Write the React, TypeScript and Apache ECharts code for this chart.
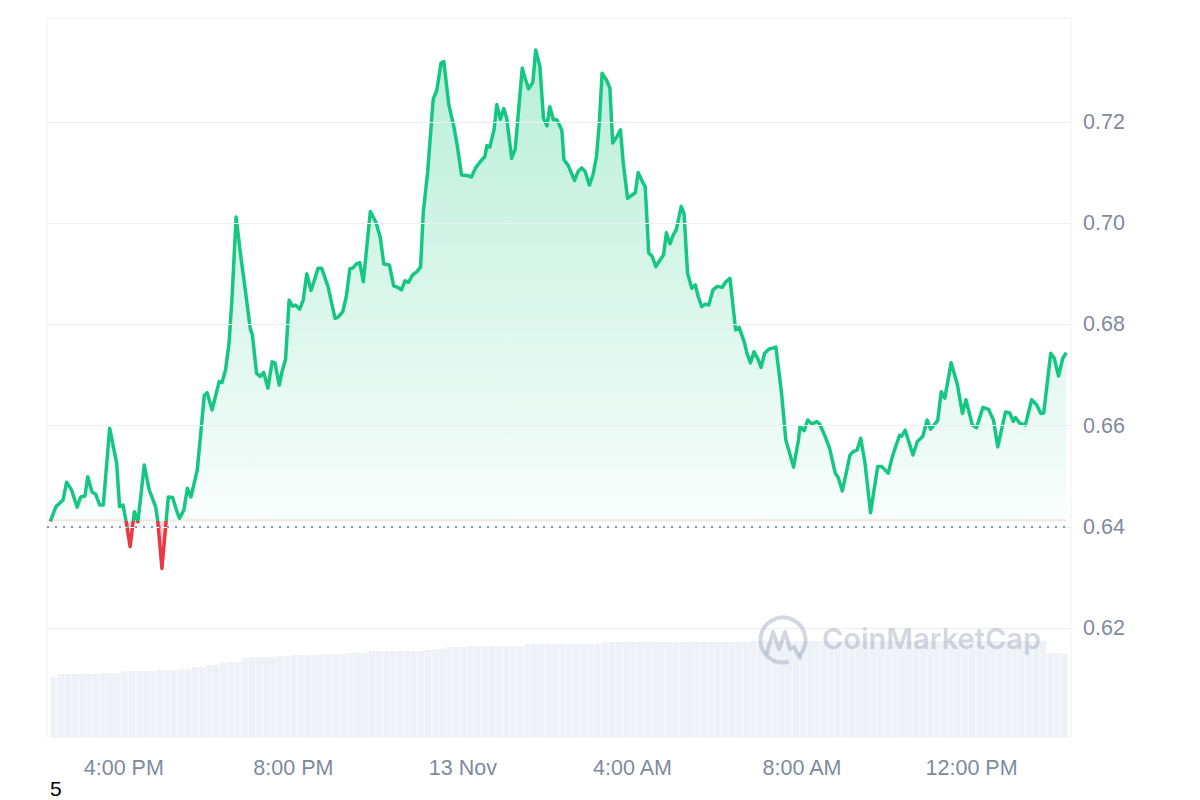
import React, { useEffect, useRef } from "react";
import * as echarts from "echarts";

// minutes since the start of the 24h window (12 Nov, 2:16 PM)
const minutes = [
  0, 8, 18, 23, 30, 38, 43, 49, 53, 59,
  64, 70, 75, 84, 94, 98, 103, 107, 113, 119,
  124, 133, 140, 149, 152, 158, 167, 173, 180, 183,
  189, 194, 199, 208, 218, 222, 229, 239, 243, 248,
  253, 257, 263, 269, 276, 283, 286, 292, 297, 302,
  308, 314, 318, 324, 328, 333, 338, 343, 347, 353,
  358, 363, 369, 374, 379, 384, 393, 403, 407, 414,
  419, 424, 428, 433, 438, 443, 453, 461, 467, 472,
  480, 486, 492, 497, 502, 507, 513, 519, 524, 528,
  534, 539, 542, 547, 553, 557, 564, 571, 576, 582,
  590, 596, 602, 609, 615, 618, 622, 628, 632, 637,
  642, 646, 653, 658, 668, 672, 677, 683, 687, 693,
  698, 703, 707, 712, 717, 724, 727, 733, 742, 747,
  752, 757, 763, 768, 773, 777, 781, 787, 792, 796,
  802, 807, 811, 817, 824, 828, 832, 838, 842, 847,
  852, 857, 863, 868, 872, 877, 882, 886, 893, 897,
  902, 908, 913, 917, 922, 927, 932, 938, 944, 951,
  956, 962, 970, 975, 982, 986, 991, 996, 1002, 1006,
  1011, 1017, 1027, 1035, 1041, 1052, 1059, 1061, 1067, 1072,
  1078, 1085, 1089, 1096, 1103, 1111, 1115, 1121, 1132, 1136,
  1142, 1147, 1153, 1161, 1171, 1177, 1186, 1192, 1202, 1205,
  1210, 1221, 1227, 1235, 1241, 1246, 1256, 1261, 1266, 1275,
  1284, 1291, 1296, 1305, 1311, 1320, 1328, 1335, 1341, 1352,
  1358, 1363, 1366, 1372, 1380, 1389, 1396, 1402, 1406, 1416,
  1421, 1427, 1433, 1438,
];

const prices = [
  0.6411, 0.644, 0.6453, 0.6488, 0.6473, 0.6439, 0.6459, 0.6461, 0.6499, 0.6469,
  0.6465, 0.6443, 0.6443, 0.6595, 0.6525, 0.644, 0.6443, 0.6413, 0.6361, 0.643,
  0.641, 0.6522, 0.6473, 0.644, 0.6413, 0.6318, 0.6459, 0.6458, 0.6427, 0.6417,
  0.6433, 0.6476, 0.6459, 0.6512, 0.666, 0.6665, 0.6631, 0.6687, 0.6685, 0.671,
  0.6763, 0.6848, 0.7012, 0.6941, 0.6868, 0.6792, 0.6779, 0.6703, 0.6697, 0.6705,
  0.6674, 0.6726, 0.6724, 0.668, 0.6707, 0.6731, 0.6848, 0.6836, 0.6838, 0.683,
  0.6848, 0.69, 0.6867, 0.6888, 0.6911, 0.6911, 0.6875, 0.6812, 0.6814, 0.6825,
  0.6855, 0.691, 0.6911, 0.6919, 0.6922, 0.6884, 0.7023, 0.7001, 0.6972, 0.6919,
  0.6917, 0.6876, 0.6873, 0.6868, 0.6886, 0.6883, 0.6898, 0.6904, 0.6913, 0.7023,
  0.7099, 0.7191, 0.7245, 0.7262, 0.7316, 0.7319, 0.7234, 0.7192, 0.7153, 0.7095,
  0.7094, 0.7091, 0.7109, 0.7122, 0.7131, 0.7153, 0.715, 0.7184, 0.7234, 0.7205,
  0.7226, 0.7207, 0.7128, 0.7146, 0.7306, 0.7286, 0.7265, 0.7278, 0.7342, 0.7309,
  0.7207, 0.7192, 0.723, 0.7204, 0.7204, 0.7184, 0.7125, 0.7114, 0.7084, 0.7102,
  0.7109, 0.7102, 0.7075, 0.7095, 0.7131, 0.7197, 0.7296, 0.7283, 0.7267, 0.7158,
  0.7171, 0.7184, 0.7118, 0.7049, 0.7056, 0.706, 0.71, 0.7082, 0.7072, 0.6941,
  0.6934, 0.6914, 0.6927, 0.6937, 0.6981, 0.6959, 0.6977, 0.6987, 0.7033, 0.7018,
  0.6901, 0.6871, 0.6878, 0.6855, 0.6835, 0.684, 0.6838, 0.6868, 0.6875, 0.6873,
  0.6884, 0.6891, 0.6789, 0.6794, 0.6766, 0.6743, 0.6724, 0.6746, 0.673, 0.6715,
  0.6743, 0.6751, 0.6755, 0.6664, 0.6572, 0.6518, 0.6572, 0.6598, 0.659, 0.6611,
  0.6603, 0.6608, 0.6603, 0.6581, 0.6555, 0.6506, 0.6498, 0.6471, 0.6542, 0.6548,
  0.6552, 0.6575, 0.6527, 0.6428, 0.6519, 0.6519, 0.6506, 0.654, 0.6581, 0.6579,
  0.6591, 0.6542, 0.6568, 0.6579, 0.6611, 0.6593, 0.661, 0.6667, 0.6654, 0.6724,
  0.668, 0.6624, 0.6651, 0.6601, 0.6596, 0.6636, 0.6632, 0.6611, 0.6558, 0.6627,
  0.6625, 0.6608, 0.6616, 0.6605, 0.6601, 0.6651, 0.6641, 0.6624, 0.6625, 0.6743,
  0.6733, 0.6698, 0.6733, 0.6744,
];

const openPrice = 0.6411;

// volume (millions), one bar per 10 minutes
const volumes = [
  30.0, 31.5, 31.5, 31.5, 31.5, 31.5, 31.5, 32.0, 32.0, 32.0,
  33.0, 33.0, 33.0, 33.0, 33.0, 33.5, 33.5, 33.5, 34.0, 34.0,
  35.0, 35.0, 36.0, 36.0, 37.0, 37.5, 37.5, 39.5, 40.0, 40.0,
  40.0, 40.0, 40.5, 40.5, 41.0, 41.0, 41.0, 41.0, 41.5, 41.5,
  41.5, 41.5, 42.0, 42.0, 42.0, 43.0, 43.0, 43.0, 43.0, 43.0,
  43.0, 43.0, 43.0, 43.5, 44.0, 44.0, 45.0, 45.0, 45.0, 45.5,
  45.5, 45.5, 45.5, 45.5, 45.5, 45.5, 45.5, 46.5, 46.5, 46.5,
  46.5, 46.5, 46.5, 46.5, 46.5, 46.5, 46.5, 46.5, 47.5, 47.5,
  47.5, 47.5, 47.5, 47.5, 47.5, 47.5, 47.5, 47.5, 47.5, 47.5,
  47.5, 47.5, 47.5, 47.5, 47.5, 47.5, 47.5, 47.5, 47.5, 48.0,
  48.0, 48.0, 48.0, 48.0, 48.0, 48.0, 48.0, 48.0, 48.0, 48.0,
  48.0, 48.0, 48.0, 48.0, 48.0, 48.0, 48.0, 48.0, 48.0, 48.0,
  48.0, 48.0, 48.0, 48.0, 48.0, 48.0, 48.0, 48.0, 48.0, 48.0,
  48.0, 48.0, 48.0, 48.0, 48.0, 48.0, 48.0, 48.0, 48.0, 48.0,
  48.0, 42.0, 42.0, 41.5,
];

// x-axis tick labels keyed by UTC hour of the tick
const tickHours = [16, 20, 0, 4, 8, 12];
const tickLabels = ["4:00 PM", "8:00 PM", "13 Nov", "4:00 AM", "8:00 AM", "12:00 PM"];
const priceTicks = [0.62, 0.64, 0.66, 0.68, 0.7, 0.72];

const Y_MIN = 0.5985;
const Y_MAX = 0.7405;
const START = Date.UTC(2023, 10, 12, 14, 16);
const MIN = 60 * 1000;
const HOUR = 60 * MIN;

const GRID_TOP = 18;
const GRID_BOTTOM_Y = 737;

const LABEL_FONT = "'Liberation Sans', Arial, Helvetica, sans-serif";
const LABEL_COLOR = "#808a9d";
const GREEN = "#16c784";
const RED = "#ea3943";
const WM = "rgba(150,160,178,0.42)";

export default function App() {
  const ref = useRef<HTMLDivElement>(null);

  useEffect(() => {
    if (!ref.current) return;
    const chart = echarts.init(ref.current, null, { renderer: "svg" });
    const priceData = minutes.map((m, i) => [START + m * MIN, prices[i]]);
    const volData = volumes.map((v, i) => [START + (i * 10 + 5) * MIN, v]);

    // fraction of the plot height (from top) where the open price lies
    const baseFrac = (Y_MAX - openPrice) / (Y_MAX - Y_MIN);

    const lineColor = new echarts.graphic.LinearGradient(
      0, GRID_TOP, 0, GRID_BOTTOM_Y,
      [
        { offset: 0, color: GREEN },
        { offset: baseFrac, color: GREEN },
        { offset: baseFrac, color: RED },
        { offset: 1, color: RED },
      ],
      true
    );

    const areaColor = new echarts.graphic.LinearGradient(
      0, GRID_TOP, 0, GRID_BOTTOM_Y,
      [
        { offset: 0, color: "rgba(22,199,132,0.32)" },
        { offset: baseFrac - 0.005, color: "rgba(22,199,132,0.03)" },
        { offset: baseFrac, color: "rgba(234,57,67,0.2)" },
        { offset: baseFrac + 0.07, color: "rgba(234,57,67,0.4)" },
        { offset: 1, color: "rgba(234,57,67,0.4)" },
      ],
      true
    );

    chart.setOption({
      animation: false,
      useUTC: true,
      backgroundColor: "#ffffff",
      grid: {
        left: 47,
        right: 129,
        top: GRID_TOP,
        bottom: 800 - GRID_BOTTOM_Y,
        show: true,
        borderColor: "#eef0f3",
        borderWidth: 1,
      },
      xAxis: {
        type: "time",
        min: START,
        max: START + 24 * HOUR,
        splitNumber: 6,
        axisLine: { show: false },
        axisTick: { show: false },
        splitLine: { show: false },
        axisLabel: {
          formatter: (v: number) => {
            const d = new Date(v);
            if (d.getUTCMinutes() !== 0) return "";
            const idx = tickHours.indexOf(d.getUTCHours());
            return idx >= 0 ? tickLabels[idx] : "";
          },
          color: LABEL_COLOR,
          fontSize: 21.5,
          fontFamily: LABEL_FONT,
          margin: 20,
        },
      },
      yAxis: [
        {
          type: "value",
          position: "right",
          min: Y_MIN,
          max: Y_MAX,
          axisLine: { show: false },
          axisTick: { show: false },
          axisLabel: { show: false },
          splitLine: { show: false },
        },
        { type: "value", min: 0, max: 359.5, show: false },
      ],
      series: [
        {
          type: "bar",
          yAxisIndex: 1,
          data: volData,
          barWidth: 6.6,
          itemStyle: { color: "#eef1f5" },
          silent: true,
          z: 1,
        },
        {
          type: "line",
          yAxisIndex: 0,
          data: priceData,
          showSymbol: false,
          symbol: "none",
          lineStyle: { width: 3.5, color: lineColor, join: "round" },
          itemStyle: { color: GREEN },
          areaStyle: { origin: openPrice, color: areaColor, opacity: 1 },
          z: 3,
          markLine: {
            silent: true,
            symbol: "none",
            data: [
              ...priceTicks.map((v) => ({
                yAxis: v,
                lineStyle: { type: "solid", color: "#eceff3", width: 1 },
                label: {
                  show: true,
                  position: "end",
                  distance: 12,
                  formatter: () => v.toFixed(2),
                  color: LABEL_COLOR,
                  fontSize: 21.5,
                  fontFamily: LABEL_FONT,
                },
              })),
              {
                yAxis: openPrice,
                lineStyle: { type: [2, 6], color: "#8f96a3", width: 2 },
                label: { show: false },
              },
            ],
          },
        },
      ],
      graphic: [
        {
          type: "arc",
          shape: { cx: 783, cy: 640, r: 22.5, startAngle: Math.PI * 0.42, endAngle: Math.PI * 2.25 },
          style: { stroke: WM, lineWidth: 4, fill: null },
          z: 10,
        },
        {
          type: "polyline",
          shape: {
            points: [
              [767, 653], [773, 632], [779, 649], [785, 632], [790, 649], [794, 647], [800, 658],
            ],
          },
          style: { stroke: WM, lineWidth: 4, fill: null, lineJoin: "round", lineCap: "round" },
          z: 10,
        },
        {
          type: "text",
          left: 822,
          top: 624,
          style: {
            text: "CoinMarketCap",
            fill: WM,
            fontSize: 29,
            fontWeight: 600,
            fontFamily: "Inter, 'Open Sans', sans-serif",
          },
          z: 10,
        },
        {
          type: "text",
          left: 50,
          top: 778,
          style: {
            text: "5",
            fill: "#000000",
            fontSize: 21,
            fontFamily: LABEL_FONT,
          },
          z: 10,
        },
      ],
    });

    return () => chart.dispose();
  }, []);

  return (
    <div
      ref={ref}
      style={{ position: "absolute", left: 0, top: 0, width: 1200, height: 800, background: "#ffffff" }}
    />
  );
}
